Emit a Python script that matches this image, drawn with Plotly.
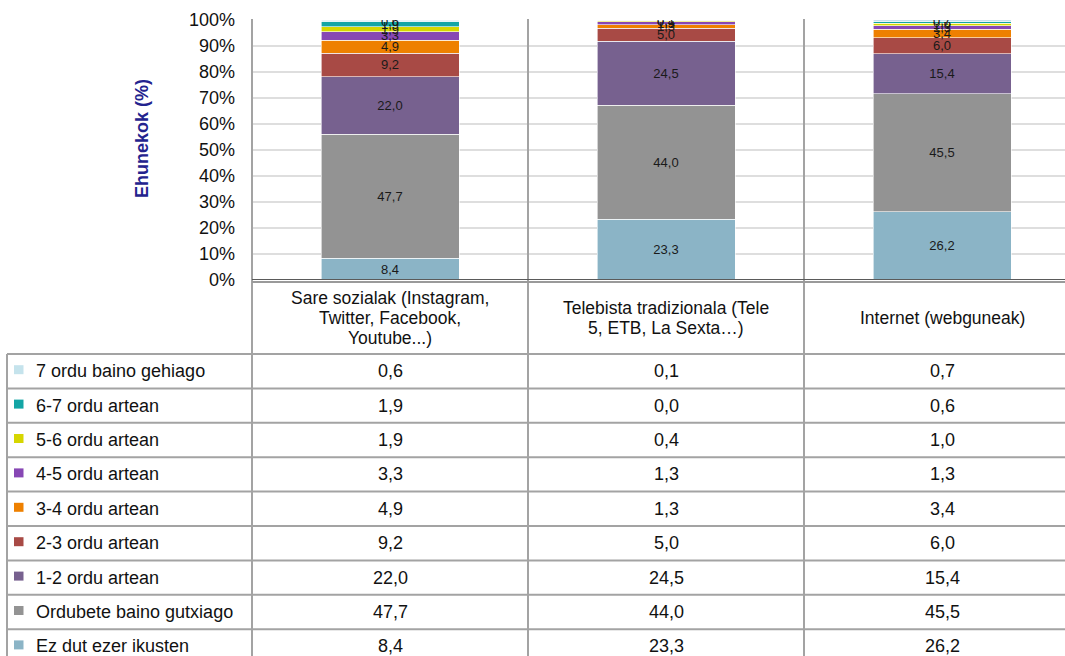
import plotly.graph_objects as go

# Categories (columns) and series (stacked from bottom to top)
categories = [
    "Sare sozialak (Instagram,<br>Twitter, Facebook,<br>Youtube...)",
    "Telebista tradizionala (Tele<br>5, ETB, La Sexta…)",
    "Internet (webguneak)",
]
levels = [
    "Ez dut ezer ikusten",
    "Ordubete baino gutxiago",
    "1-2 ordu artean",
    "2-3 ordu artean",
    "3-4 ordu artean",
    "4-5 ordu artean",
    "5-6 ordu artean",
    "6-7 ordu artean",
    "7 ordu baino gehiago",
]
sare = [8.4, 47.7, 22.0, 9.2, 4.9, 3.3, 1.9, 1.9, 0.6]
tele = [23.3, 44.0, 24.5, 5.0, 1.3, 1.3, 0.4, 0.0, 0.1]
inet = [26.2, 45.5, 15.4, 6.0, 3.4, 1.3, 1.0, 0.6, 0.7]
colors = ["#8bb4c6", "#939393", "#77618f", "#a84a45", "#ee8000",
          "#8747b4", "#d6d600", "#13a5a5", "#c5e3ec"]
yticks = [0, 10, 20, 30, 40, 50, 60, 70, 80, 90, 100]

W, H = 1065, 656
L, T, B = 252, 20, 376
plot_w, plot_h = W - L, H - T - B
col_w = 276
FONT = "Liberation Sans, Arial, sans-serif"


def px(x):
    return (x - L) / plot_w


def py(y):
    return (H - B - y) / plot_h


def fmt(v):
    return f"{v:.1f}".replace(".", ",")


series = list(zip(sare, tele, inet))
xs = list(range(len(categories)))

fig = go.Figure()
for i, name in enumerate(levels):
    vals = list(series[i])
    fig.add_trace(go.Bar(
        x=xs, y=vals, name=name, width=0.5,
        marker=dict(color=colors[i], line=dict(color="white", width=0.6)),
        text=[fmt(v) for v in vals], textposition="inside",
        insidetextanchor="middle", textangle=0, constraintext="none",
        textfont=dict(size=13, color="#1a1a1a", family=FONT),
        hoverinfo="skip",
    ))

# table geometry (pixels)
header_top, header_bot = 281, 354
row_h = 34.4
line_col = "#a3a3a3"
shapes = []


def hline(y, x0, x1, color=line_col, width=2):
    shapes.append(dict(type="line", xref="paper", yref="paper",
                       x0=px(x0), x1=px(x1), y0=py(y), y1=py(y),
                       line=dict(color=color, width=width)))


def vline(x, y0, y1, color=line_col, width=2):
    shapes.append(dict(type="line", xref="paper", yref="paper",
                       x0=px(x), x1=px(x), y0=py(y0), y1=py(y1),
                       line=dict(color=color, width=width)))


# column separators through plot and table
for k in range(len(categories)):
    vline(L + col_w * k, T - 1, H + 5)
# axis / table top border
hline(282, L, W + 5, color="#9a9a9a", width=2)
hline(279.5, L, W + 5, color="#5a5a5a", width=1)
# table row lines
hline(header_bot, 7, W + 5)
for r in range(len(levels)):
    hline(header_bot + row_h * (r + 1), 7, W + 5)
vline(7, header_bot, H + 5)

annotations = []
# headers, one annotation per line for tighter line spacing
head_mid = (header_top + header_bot) / 2
line_gap = 20
for i, cat in enumerate(categories):
    parts = cat.split("<br>")
    for j, part in enumerate(parts):
        cy = head_mid + (j - (len(parts) - 1) / 2) * line_gap
        annotations.append(dict(x=i, xref="x", y=py(cy), yref="paper",
                                text=part, showarrow=False,
                                xanchor="center", yanchor="middle",
                                font=dict(size=17.5, color="#111111", family=FONT)))
# rows (top row = highest level)
table_rows = list(reversed(range(len(levels))))
for r, li in enumerate(table_rows):
    cy = header_bot + row_h * (r + 0.5)
    annotations.append(dict(x=px(34), xref="paper", y=py(cy), yref="paper",
                            text=levels[li], showarrow=False,
                            xanchor="left", yanchor="middle",
                            font=dict(size=18, color="#111111", family=FONT)))
    shapes.append(dict(type="rect", xref="paper", yref="paper",
                       x0=px(14), x1=px(23.5), y0=py(cy - 6), y1=py(cy + 3),
                       fillcolor=colors[li], line=dict(width=0)))
    for i in xs:
        annotations.append(dict(x=i, xref="x", y=py(cy), yref="paper",
                                text=fmt(series[li][i]), showarrow=False,
                                xanchor="center", yanchor="middle",
                                font=dict(size=18, color="#111111", family=FONT)))

# y-axis title
annotations.append(dict(x=px(142), xref="paper", y=py(139), yref="paper",
                        text="<b>Ehunekok (%)</b>", textangle=-90, showarrow=False,
                        xanchor="center", yanchor="middle",
                        font=dict(size=18, color="#23238e", family=FONT)))

fig.update_layout(
    width=W, height=H,
    margin=dict(l=L, r=0, t=T, b=B, pad=0),
    barmode="stack",
    showlegend=False,
    plot_bgcolor="white",
    paper_bgcolor="white",
    font=dict(family=FONT, size=18, color="#111111"),
    xaxis=dict(range=[-0.5, -0.5 + plot_w / col_w], showticklabels=False,
               showgrid=False, zeroline=False, showline=False, fixedrange=True),
    yaxis=dict(range=[0, 100], tickvals=yticks,
               ticktext=[f"{v}%" for v in yticks],
               showgrid=True, gridcolor="#dedede", gridwidth=2,
               zeroline=False, showline=False, ticks="",
               ticklabelstandoff=16,
               tickfont=dict(size=18, color="#111111", family=FONT)),
    shapes=shapes,
    annotations=annotations,
)

fig.write_html("out.html", config={"displayModeBar": False},
               post_script="document.body.style.margin='0px';")
